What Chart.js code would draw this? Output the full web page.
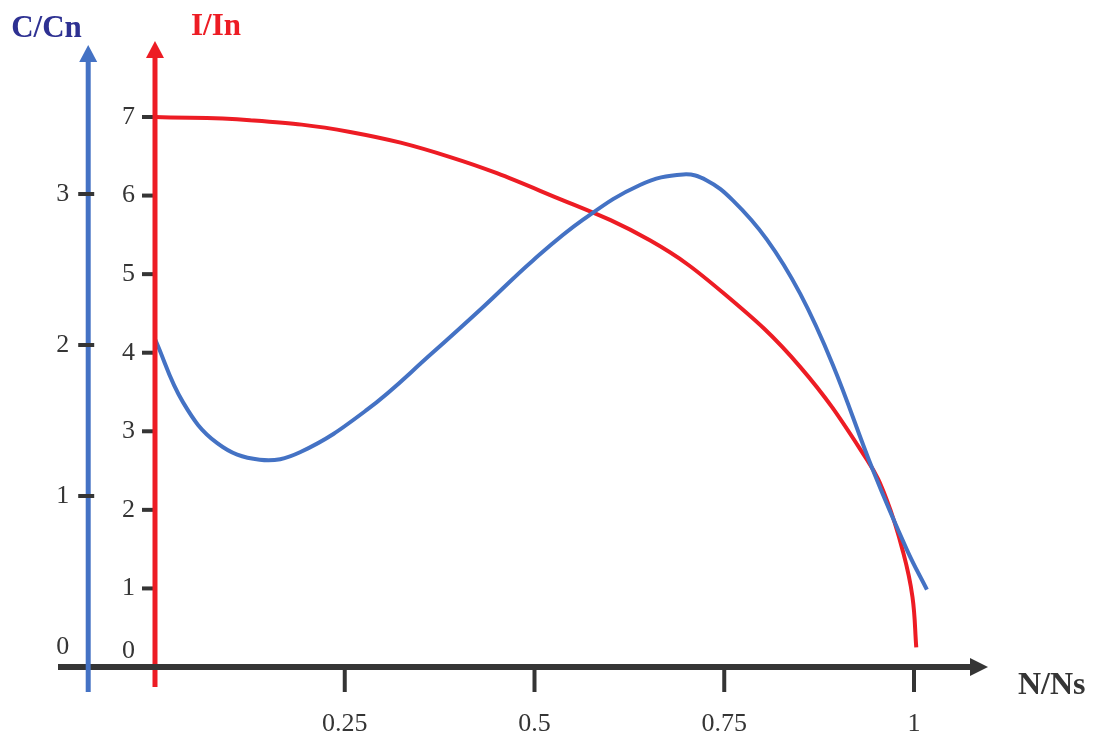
<!DOCTYPE html>
<html>
<head>
<meta charset="utf-8">
<title>C/Cn et I/In en fonction de N/Ns</title>
<script src="https://cdn.jsdelivr.net/npm/chart.js@4.4.1/dist/chart.umd.min.js"></script>
<style>
  html, body { margin: 0; padding: 0; background: #fff; }
  #wrap { position: relative; width: 1097px; height: 738px; }
</style>
</head>
<body>
<div id="wrap"><canvas id="chart"></canvas></div>
<script>
// I/In curve (red)
const currentSpeed = [0, 0.125, 0.257, 0.389, 0.520, 0.652, 0.750, 0.850, 0.938, 0.964, 0.986, 0.998, 1.003];
const currentValues = [7.0, 6.96, 6.81, 6.49, 6.01, 5.43, 4.75, 3.82, 2.64, 2.13, 1.45, 0.89, 0.25];

// C/Cn curve (blue)
const torqueSpeed = [0, 0.037, 0.082, 0.138, 0.191, 0.279, 0.366, 0.432, 0.498, 0.564, 0.639, 0.696, 0.727, 0.761, 0.806, 0.850, 0.893, 0.946, 0.991, 1.017];
const torqueValues = [2.04, 1.62, 1.35, 1.24, 1.29, 1.57, 1.95, 2.25, 2.56, 2.83, 3.06, 3.13, 3.09, 2.96, 2.70, 2.34, 1.87, 1.17, 0.64, 0.38];

const speedTicks = [0.25, 0.5, 0.75, 1];
const currentTicks = [0, 1, 2, 3, 4, 5, 6, 7];
const torqueTicks = [0, 1, 2, 3];

const RED = "#ED1C24";
const BLUE = "#4472C4";
const DARK = "#353535";
const torqueAxisAt = -0.088; // where the C/Cn axis stands on the N/Ns scale

function arrow(ctx, x1, y1, x2, y2, color, width, head) {
    const a = Math.atan2(y2 - y1, x2 - x1);
    ctx.save();
    ctx.strokeStyle = color;
    ctx.fillStyle = color;
    ctx.lineWidth = width;
    ctx.beginPath();
    ctx.moveTo(x1, y1);
    ctx.lineTo(x2 - Math.cos(a) * head, y2 - Math.sin(a) * head);
    ctx.stroke();
    ctx.beginPath();
    ctx.moveTo(x2, y2);
    ctx.lineTo(x2 - Math.cos(a) * head - Math.sin(a) * 9, y2 - Math.sin(a) * head + Math.cos(a) * 9);
    ctx.lineTo(x2 - Math.cos(a) * head + Math.sin(a) * 9, y2 - Math.sin(a) * head - Math.cos(a) * 9);
    ctx.closePath();
    ctx.fill();
    ctx.restore();
}

function tick(ctx, x1, y1, x2, y2) {
    ctx.save();
    ctx.strokeStyle = DARK;
    ctx.lineWidth = 4;
    ctx.beginPath();
    ctx.moveTo(x1, y1);
    ctx.lineTo(x2, y2);
    ctx.stroke();
    ctx.restore();
}

const drawnAxes = {
    id: "drawnAxes",
    afterDatasetsDraw(chart) {
        const { ctx, chartArea, scales } = chart;
        const x = scales.x, yI = scales.yI, yC = scales.yC;
        const redX = x.getPixelForValue(0);
        const blueX = x.getPixelForValue(torqueAxisAt);
        const baseY = yI.getPixelForValue(0);

        ctx.save();
        ctx.font = '26px "Liberation Serif"';
        ctx.fillStyle = DARK;

        // I/In axis
        currentTicks.forEach(v => {
            const py = yI.getPixelForValue(v);
            tick(ctx, redX - 13, py, redX, py);
            ctx.textAlign = "right";
            ctx.textBaseline = "middle";
            ctx.fillText(String(v), redX - 20, v === 0 ? py - 16 : py);
        });
        arrow(ctx, redX, baseY + 20, redX, chartArea.top + 1, RED, 5, 17);

        // N/Ns axis
        speedTicks.forEach(v => {
            const px = x.getPixelForValue(v);
            tick(ctx, px, baseY, px, baseY + 25);
            ctx.textAlign = "center";
            ctx.textBaseline = "middle";
            ctx.fillText(String(v), px, baseY + 57);
        });
        arrow(ctx, chartArea.left, baseY, chartArea.right, baseY, DARK, 6, 18);

        // C/Cn axis
        arrow(ctx, blueX, baseY + 25, blueX, chartArea.top + 5, BLUE, 5, 17);
        torqueTicks.forEach(v => {
            const py = yC.getPixelForValue(v);
            if (v > 0) tick(ctx, blueX - 10, py, blueX + 6, py);
            ctx.textAlign = "right";
            ctx.textBaseline = "middle";
            ctx.fillText(String(v), blueX - 19, py);
        });

        // titles
        ctx.font = 'bold 31px "Liberation Serif"';
        ctx.textAlign = "left";
        ctx.textBaseline = "alphabetic";
        ctx.fillStyle = "#2E3192";
        ctx.fillText("C/Cn", blueX - 77, 37);
        ctx.fillStyle = RED;
        ctx.fillText("I/In", redX + 36, 35);
        ctx.fillStyle = DARK;
        ctx.font = 'bold 32px "Liberation Serif"';
        ctx.fillText("N/Ns", chartArea.right + 30, baseY + 27);
        ctx.restore();
    }
};

new Chart("chart", {
    type: "line",
    data: {
        datasets: [{
            label: "C/Cn",
            data: torqueSpeed.map((s, i) => ({ x: s, y: torqueValues[i] })),
            yAxisID: "yC",
            borderColor: BLUE,
            borderWidth: 4,
            pointRadius: 0,
            tension: 0.4,
            clip: false
        }, {
            label: "I/In",
            data: currentSpeed.map((s, i) => ({ x: s, y: currentValues[i] })),
            yAxisID: "yI",
            borderColor: RED,
            borderWidth: 4,
            pointRadius: 0,
            tension: 0.4,
            clip: false
        }]
    },
    options: {
        responsive: true,
        maintainAspectRatio: false,
        animation: false,
        layout: { padding: { left: 58, right: 109, top: 40, bottom: 38 } },
        plugins: { legend: { display: false }, tooltip: { enabled: false } },
        scales: {
            x: { type: "linear", min: -0.1278, max: 1.0975, display: false },
            yI: { type: "linear", min: -0.42, max: 7.98, display: false },
            yC: { type: "linear", min: -0.351, max: 4.02, display: false }
        }
    },
    plugins: [drawnAxes]
});
</script>
</body>
</html>
